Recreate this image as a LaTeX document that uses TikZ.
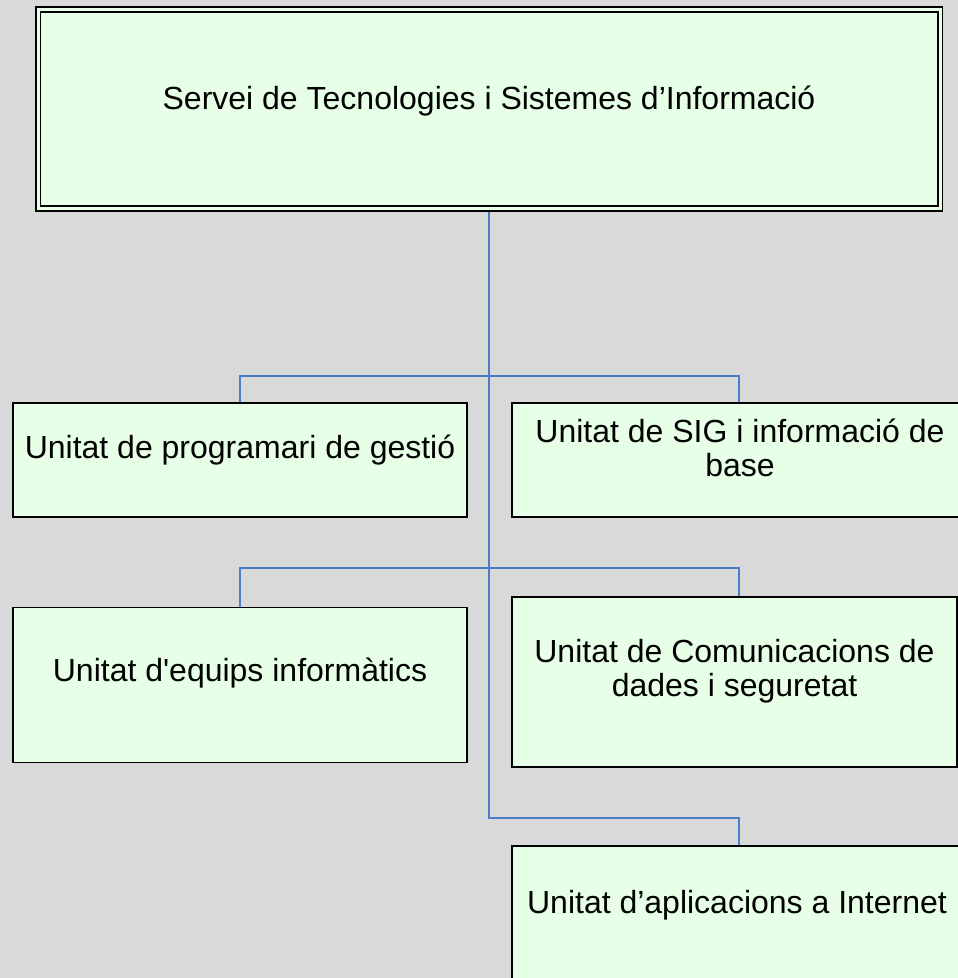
\documentclass[tikz,border=0pt]{standalone}
\usepackage{fontspec}
\newfontfamily\unitfont{Liberation Sans}
\usetikzlibrary{backgrounds}
\definecolor{boxgreen}{HTML}{E6FFE6}
\definecolor{linkblue}{HTML}{4A7EC8}
\definecolor{backgray}{HTML}{D9D9D9}

\begin{document}
\begin{tikzpicture}[x=1pt,y=-1pt,
	unitbox/.style={draw=black,line width=1.5pt,fill=boxgreen,inner sep=0pt},
	unittext/.style={anchor=base,align=center,inner sep=0pt,font=\unitfont\fontsize{32}{34}\selectfont},
	link/.style={draw=linkblue,line width=1.2pt},
	trunk/.style={link,line width=2pt}]
	\def\frame{(0,0) rectangle (958,978)}
	\useasboundingbox \frame;
	\clip \frame;

	% boxes
	\node[unitbox,double=boxgreen,double distance=3pt,line width=1.7pt,minimum width=902pt,minimum height=199pt] (stsi) at (489,109) {};
	\node[unitbox,minimum width=454pt,minimum height=114pt] (progr) at (240,460) {};
	\node[unitbox,minimum width=454pt,minimum height=114pt] (sig) at (739,460) {};
	\node[unitbox,minimum width=454pt,minimum height=155pt] (equips) at (240,685) {};
	\node[unitbox,minimum width=445pt,minimum height=170pt] (comun) at (734.5,682) {};
	\node[unitbox,minimum width=454pt,minimum height=148pt] (inet) at (739,920) {};

	% texts (base = last line)
	\node[unittext] (stsi-t) at (489,109) {Servei de Tecnologies i Sistemes d’Informació};
	\node[unittext] (progr-t) at (240,458) {Unitat de programari de gestió};
	\node[unittext] (sig-t) at (740,476) {Unitat de SIG i informació de\\base};
	\node[unittext] (equips-t) at (240,681) {Unitat d'equips informàtics};
	\node[unittext] (comun-t) at (734.5,696) {Unitat de Comunicacions de\\dades i seguretat};
	\node[unittext] (inet-t) at (737,913) {Unitat d’aplicacions a Internet};

	\coordinate (fork1) at (489,376);
	\coordinate (fork2) at (489,568);
	\coordinate (fork3) at (489,818);

	\begin{scope}[on background layer]
		\fill[backgray] \frame;
		\draw[trunk] (stsi.south) -- (fork2);
		\draw[link] (fork1) -| (progr.north);
		\draw[link] (fork1) -| (sig.north);
		\draw[link] (fork2) -| (equips.north);
		\draw[link] (fork2) -| (comun.north -| sig.north);
		\draw[link] (fork2) -- (fork3) -| (inet.north);
	\end{scope}
\end{tikzpicture}
\end{document}
